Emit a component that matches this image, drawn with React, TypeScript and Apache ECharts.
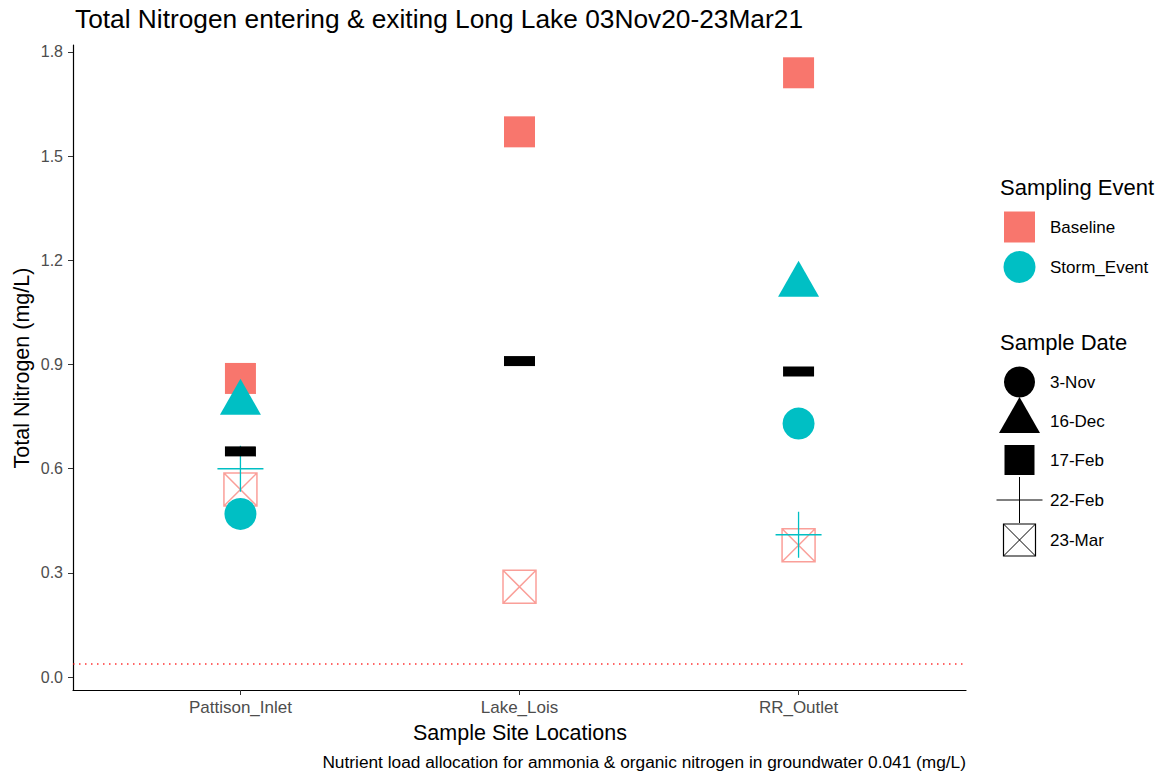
import React, { useEffect, useRef } from 'react';
import * as echarts from 'echarts';

// ---- data ----
const sites = ['Pattison_Inlet', 'Lake_Lois', 'RR_Outlet'];
const sampleDates = ['3-Nov', '16-Dec', '17-Feb', '22-Feb', '23-Mar'];
const samplingEvents = ['Baseline', 'Storm_Event'];
const yTicks = [0, 0.3, 0.6, 0.9, 1.2, 1.5, 1.8];

const baselineSite = ['Pattison_Inlet', 'Lake_Lois', 'RR_Outlet', 'Pattison_Inlet', 'Lake_Lois', 'RR_Outlet'];
const baselineDate = ['17-Feb', '17-Feb', '17-Feb', '23-Mar', '23-Mar', '23-Mar'];
const baselineValue = [0.86, 1.57, 1.74, 0.54, 0.26, 0.38];

const stormSite = ['Pattison_Inlet', 'Pattison_Inlet', 'Pattison_Inlet', 'RR_Outlet', 'RR_Outlet', 'RR_Outlet'];
const stormDate = ['3-Nov', '16-Dec', '22-Feb', '3-Nov', '16-Dec', '22-Feb'];
const stormValue = [0.47, 0.79, 0.6, 0.73, 1.13, 0.41];

const siteMeans = [0.65, 0.91, 0.88];
const allocationLimit = 0.041;

// ---- styling ----
const COLORS: Record<string, string> = { Baseline: '#F8766D', Storm_Event: '#00BFC4' };
const FONT = '"Liberation Sans", Arial, Helvetica, sans-serif';
const PLUS = 'path://M0,23L46,23M23,0L23,46';
const XBOX = 'path://M0,0L32,0L32,32L0,32Z M0,0L32,32 M32,0L0,32';

function shapeStyle(date: string, color: string): any {
  switch (date) {
    case '3-Nov':
      return { symbol: 'circle', symbolSize: 32, itemStyle: { color, opacity: 1 } };
    case '16-Dec':
      return { symbol: 'triangle', symbolSize: [41, 36], symbolOffset: [0, -6], itemStyle: { color, opacity: 1 } };
    case '17-Feb':
      return { symbol: 'rect', symbolSize: 31, itemStyle: { color, opacity: 1 } };
    case '22-Feb':
      return { symbol: PLUS, symbolSize: 46, itemStyle: { color: 'none', borderColor: color, borderWidth: 1.3, opacity: 1 } };
    default:
      return { symbol: XBOX, symbolSize: 33, itemStyle: { color: 'none', borderColor: color, borderWidth: 1.5, opacity: 0.7 } };
  }
}

function buildPoints(siteArr: string[], dateArr: string[], valArr: number[], event: string) {
  const color = COLORS[event];
  return valArr.map((v, i) => ({
    value: [sites.indexOf(siteArr[i]) + 1, v],
    ...shapeStyle(dateArr[i], color),
  }));
}

function legendGraphics(): any[] {
  const els: any[] = [];
  const tx = 1050;
  els.push({ type: 'text', x: 1000, y: 187, style: { text: 'Sampling Event', font: `22px ${FONT}`, fill: '#000', verticalAlign: 'middle' } });
  const evY = [227, 267];
  samplingEvents.forEach((ev, i) => {
    const y = evY[i];
    if (ev === 'Baseline') {
      els.push({ type: 'rect', shape: { x: 1004, y: y - 15.5, width: 31, height: 31 }, style: { fill: COLORS[ev] } });
    } else {
      els.push({ type: 'circle', shape: { cx: 1019.5, cy: y, r: 16 }, style: { fill: COLORS[ev] } });
    }
    els.push({ type: 'text', x: tx, y, style: { text: ev, font: `17px ${FONT}`, fill: '#000', verticalAlign: 'middle' } });
  });
  els.push({ type: 'text', x: 1000, y: 342, style: { text: 'Sample Date', font: `22px ${FONT}`, fill: '#000', verticalAlign: 'middle' } });
  const dY = [382, 421, 460, 500, 540];
  sampleDates.forEach((d, i) => {
    const y = dY[i];
    const cx = 1019.5;
    if (d === '3-Nov') {
      els.push({ type: 'circle', shape: { cx, cy: y, r: 15.5 }, style: { fill: '#000' } });
    } else if (d === '16-Dec') {
      els.push({ type: 'polygon', shape: { points: [[cx, y - 24], [cx + 20.5, y + 12], [cx - 20.5, y + 12]] }, style: { fill: '#000' } });
    } else if (d === '17-Feb') {
      els.push({ type: 'rect', shape: { x: cx - 15, y: y - 15, width: 30, height: 30 }, style: { fill: '#000' } });
    } else if (d === '22-Feb') {
      els.push({ type: 'line', shape: { x1: cx - 23, y1: y, x2: cx + 23, y2: y }, style: { stroke: '#000', lineWidth: 1 } });
      els.push({ type: 'line', shape: { x1: cx, y1: y - 23, x2: cx, y2: y + 23 }, style: { stroke: '#000', lineWidth: 1 }, z: -1 });
    } else {
      els.push({ type: 'rect', shape: { x: cx - 16, y: y - 16, width: 32, height: 32 }, style: { fill: 'none', stroke: '#000', lineWidth: 1.2 } });
      els.push({ type: 'line', shape: { x1: cx - 16, y1: y - 16, x2: cx + 16, y2: y + 16 }, style: { stroke: '#000', lineWidth: 1 } });
      els.push({ type: 'line', shape: { x1: cx + 16, y1: y - 16, x2: cx - 16, y2: y + 16 }, style: { stroke: '#000', lineWidth: 1 } });
    }
    els.push({ type: 'text', x: tx, y, style: { text: d, font: `17px ${FONT}`, fill: '#000', verticalAlign: 'middle' } });
  });
  return els;
}

export default function App() {
  const ref = useRef<HTMLDivElement>(null);
  useEffect(() => {
    if (!ref.current) return;
    const chart = echarts.init(ref.current, undefined, { renderer: 'svg' });
    const option: any = {
      animation: false,
      backgroundColor: '#fff',
      textStyle: { fontFamily: FONT },
      grid: { left: 73, right: 207, top: 45, bottom: 86 },
      xAxis: {
        type: 'value',
        min: 0.4,
        max: 3.6,
        splitLine: { show: false },
        axisLine: { onZero: false, lineStyle: { color: '#000', width: 1.2 } },
        axisTick: { show: true, customValues: [1, 2, 3], length: 5, lineStyle: { color: '#333' } },
        axisLabel: {
          customValues: [1, 2, 3],
          formatter: (v: number) => sites[Math.round(v) - 1] ?? '',
          color: '#4D4D4D',
          fontSize: 17,
          fontFamily: FONT,
          margin: 9,
        },
      },
      yAxis: {
        type: 'value',
        min: -0.037,
        max: 1.82,
        splitLine: { show: false },
        axisLine: { show: true, onZero: false, lineStyle: { color: '#000', width: 1.2 } },
        axisTick: { show: true, customValues: yTicks, length: 5, lineStyle: { color: '#333' } },
        axisLabel: {
          customValues: yTicks,
          formatter: (v: number) => v.toFixed(1),
          color: '#4D4D4D',
          fontSize: 16,
          fontFamily: FONT,
          margin: 10,
        },
      },
      series: [
        {
          type: 'scatter',
          name: 'Baseline',
          silent: true,
          data: buildPoints(baselineSite, baselineDate, baselineValue, 'Baseline'),
          markLine: {
            silent: true,
            symbol: 'none',
            label: { show: false },
            lineStyle: { color: '#FF0000', type: [1.5, 4.5], width: 1.5, opacity: 0.8 },
            data: [{ yAxis: allocationLimit }],
          },
          z: 2,
        },
        {
          type: 'scatter',
          name: 'Storm_Event',
          silent: true,
          data: buildPoints(stormSite, stormDate, stormValue, 'Storm_Event'),
          z: 3,
        },
        {
          type: 'scatter',
          name: 'Mean',
          silent: true,
          symbol: 'rect',
          symbolSize: [31, 10],
          itemStyle: { color: '#000', opacity: 1 },
          data: siteMeans.map((v, i) => [i + 1, v]),
          z: 4,
        },
      ],
      graphic: [
        { type: 'text', x: 75, y: 19, style: { text: 'Total Nitrogen entering & exiting Long Lake 03Nov20-23Mar21', font: `26.3px ${FONT}`, fill: '#000', verticalAlign: 'middle' } },
        { type: 'text', x: 22, y: 368, rotation: Math.PI / 2, style: { text: 'Total Nitrogen (mg/L)', font: `21.5px ${FONT}`, fill: '#000', align: 'center', verticalAlign: 'middle' } },
        { type: 'text', x: 520, y: 733, style: { text: 'Sample Site Locations', font: `21.5px ${FONT}`, fill: '#000', align: 'center', verticalAlign: 'middle' } },
        { type: 'text', x: 966, y: 762, style: { text: 'Nutrient load allocation for ammonia & organic nitrogen in groundwater 0.041 (mg/L)', font: `17.3px ${FONT}`, fill: '#000', align: 'right', verticalAlign: 'middle' } },
        ...legendGraphics(),
      ],
    };
    chart.setOption(option);
    return () => chart.dispose();
  }, []);
  return <div ref={ref} style={{ position: 'fixed', left: 0, top: 0, width: 1173, height: 776 }} />;
}
